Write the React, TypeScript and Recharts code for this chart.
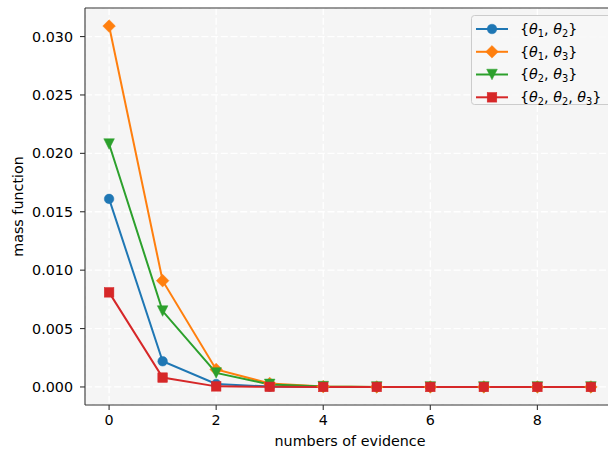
import React from 'react';
import { LineChart, Line, XAxis, YAxis, CartesianGrid, ReferenceLine } from 'recharts';

const evidence = [0, 1, 2, 3, 4, 5, 6, 7, 8, 9];
const theta12 = [0.0161, 0.0022, 0.00025, 0.00003, 0, 0, 0, 0, 0, 0];
const theta13 = [0.0309, 0.0091, 0.0015, 0.0003, 0.00003, 0, 0, 0, 0, 0];
const theta23 = [0.0208, 0.0065, 0.0012, 0.00022, 0.00003, 0, 0, 0, 0, 0];
const theta223 = [0.0081, 0.0008, 0.00005, 0.00001, 0, 0, 0, 0, 0, 0];

const xTicks = [0, 2, 4, 6, 8];
const yTicks = [0, 0.005, 0.01, 0.015, 0.02, 0.025, 0.03];

const data = evidence.map((x, i) => ({
  x,
  a: theta12[i],
  b: theta13[i],
  c: theta23[i],
  d: theta223[i],
}));

const FONT = '"DejaVu Sans", sans-serif';
const FS = 14.3;
const BLUE = '#1f77b4';
const ORANGE = '#ff7f0e';
const GREEN = '#2ca02c';
const RED = '#d62728';
const SPINE = '#333';

// matplotlib-style 5% margins
const allY = [...theta12, ...theta13, ...theta23, ...theta223];
const yLo = Math.min(...allY);
const yHi = Math.max(...allY);
const yPad = (yHi - yLo) * 0.05;
const yDomain: [number, number] = [yLo - yPad, yHi + yPad];
const xPad = (evidence[evidence.length - 1] - evidence[0]) * 0.05;
const xDomain: [number, number] = [evidence[0] - xPad, evidence[evidence.length - 1] + xPad];

type Shape = 'circle' | 'diamond' | 'tri' | 'square';

const Marker = ({ cx, cy, shape, color }: { cx: number; cy: number; shape: Shape; color: string }) => {
  if (cx == null || cy == null) return null;
  if (shape === 'circle') return <circle cx={cx} cy={cy} r={4.8} fill={color} stroke={color} strokeWidth={0.5} />;
  if (shape === 'diamond') {
    const h = 6.3;
    return <polygon points={`${cx},${cy - h} ${cx + h},${cy} ${cx},${cy + h} ${cx - h},${cy}`} fill={color} stroke={color} strokeWidth={0.5} />;
  }
  if (shape === 'tri') {
    const h = 5.3;
    return <polygon points={`${cx - h},${cy - h} ${cx + h},${cy - h} ${cx},${cy + h}`} fill={color} stroke={color} strokeWidth={0.5} />;
  }
  const s = 4.8;
  return <rect x={cx - s} y={cy - s} width={2 * s} height={2 * s} fill={color} stroke={color} strokeWidth={0.5} />;
};

const dotFor = (shape: Shape, color: string) => (p: any) => (
  <Marker key={`${shape}-${p.index}`} cx={p.cx} cy={p.cy} shape={shape} color={color} />
);

const series: { key: string; color: string; shape: Shape; label: string[] }[] = [
  { key: 'a', color: BLUE, shape: 'circle', label: ['1', '2'] },
  { key: 'b', color: ORANGE, shape: 'diamond', label: ['1', '3'] },
  { key: 'c', color: GREEN, shape: 'tri', label: ['2', '3'] },
  { key: 'd', color: RED, shape: 'square', label: ['2', '2', '3'] },
];

const MathLabel = ({ x, y, subs }: { x: number; y: number; subs: string[] }) => (
  <text x={x} y={y} fontFamily={FONT} fontSize={FS} fill="#000">
    <tspan>{'{'}</tspan>
    {subs.map((s, i) => (
      <React.Fragment key={i}>
        {i > 0 && <tspan dy={-3.2}>, </tspan>}
        <tspan fontStyle="italic">θ</tspan>
        <tspan fontSize={9.8} dy={3.2}>{s}</tspan>
      </React.Fragment>
    ))}
    <tspan dy={-3.2}>{'}'}</tspan>
  </text>
);

export default function App() {
  const rowY = [29, 51.8, 74.5, 97.3];
  return (
    <div style={{ position: 'absolute', left: 0, top: 0, width: 608, height: 452, overflow: 'hidden', background: '#fff' }}>
      <LineChart width={620} height={452} data={data} margin={{ top: 8, right: 5, left: 0, bottom: 0 }}>
        <CartesianGrid fill="#f5f5f5" stroke="#ffffff" strokeDasharray="7 2.7" strokeWidth={1.3} />
        <XAxis
          dataKey="x"
          type="number"
          domain={xDomain}
          ticks={xTicks}
          height={47}
          allowDataOverflow
          stroke={SPINE}
          strokeWidth={1.1}
          tickSize={5}
          tickMargin={5.2}
          tick={{ fill: '#000', fontSize: FS, fontFamily: FONT }}
          tickLine={{ stroke: SPINE, strokeWidth: 1.1 }}
        />
        <YAxis
          type="number"
          domain={yDomain}
          ticks={yTicks}
          width={85}
          allowDataOverflow
          stroke={SPINE}
          strokeWidth={1.1}
          tickSize={5}
          tickMargin={7}
          tickFormatter={(v: number) => v.toFixed(3)}
          tick={{ fill: '#000', fontSize: FS, fontFamily: FONT }}
          tickLine={{ stroke: SPINE, strokeWidth: 1.1 }}
        />
        <ReferenceLine y={yDomain[1]} stroke={SPINE} strokeWidth={1.1} ifOverflow="extendDomain" />
        {series.map((s) => (
          <Line
            key={s.key}
            dataKey={s.key}
            type="linear"
            stroke={s.color}
            strokeWidth={2}
            dot={dotFor(s.shape, s.color)}
            activeDot={false}
            isAnimationActive={false}
          />
        ))}
      </LineChart>
      <svg width={608} height={452} style={{ position: 'absolute', left: 0, top: 0, pointerEvents: 'none' }}>
        <text
          x={23}
          y={206.5}
          transform="rotate(-90, 23, 206.5)"
          textAnchor="middle"
          fontFamily={FONT}
          fontSize={FS}
          fill="#000"
        >
          mass function
        </text>
        <text x={350} y={446} textAnchor="middle" fontFamily={FONT} fontSize={FS} fill="#000">
          numbers of evidence
        </text>
        <rect x={471.5} y={15.5} width={140} height={89} rx={3} fill="#f7f7f7" fillOpacity={0.9} stroke="#cccccc" strokeWidth={1} />
        {series.map((s, i) => (
          <g key={s.key}>
            <line x1={476} x2={508} y1={rowY[i]} y2={rowY[i]} stroke={s.color} strokeWidth={2} />
            <Marker cx={492} cy={rowY[i]} shape={s.shape} color={s.color} />
            <MathLabel x={520} y={rowY[i] + 4.7} subs={s.label} />
          </g>
        ))}
      </svg>
    </div>
  );
}
